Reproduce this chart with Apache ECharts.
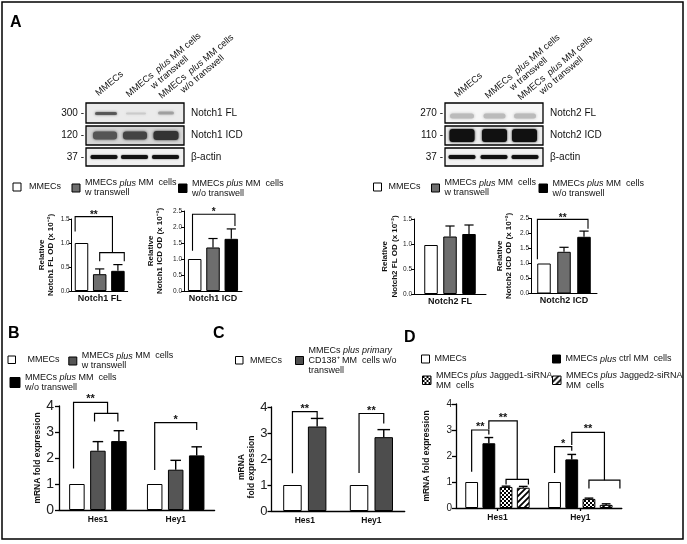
<!DOCTYPE html>
<html>
<head>
<meta charset="utf-8">
<script src="https://cdn.jsdelivr.net/npm/echarts@6.0.0/dist/echarts.min.js"></script>
<style>
html,body{margin:0;padding:0;background:#fff;}
#chart{width:687px;height:544px;}
</style>
</head>
<body>
<div id="chart"></div>
<script>
// ================= DATA =================
// Panel A – densitometry (relative OD x 10^-2)
const catNotch1FL = ['Notch1 FL'];
const catNotch1ICD = ['Notch1 ICD'];
const catNotch2FL = ['Notch2 FL'];
const catNotch2ICD = ['Notch2 ICD'];
const notch1FL = [1.0, 0.35, 0.42];
const notch1FLErr = [0, 0.11, 0.13];
const notch1ICD = [1.0, 1.36, 1.63];
const notch1ICDErr = [0, 0.28, 0.31];
const notch2FL = [0.98, 1.15, 1.20];
const notch2FLErr = [0, 0.21, 0.18];
const notch2ICD = [1.0, 1.39, 1.89];
const notch2ICDErr = [0, 0.15, 0.19];
const ticksA15 = ['0.0', '0.5', '1.0', '1.5'];
const ticksA25 = ['0.0', '0.5', '1.0', '1.5', '2.0', '2.5'];
// Panel B
const genes = ['Hes1', 'Hey1'];
const bMMECs = [1, 1];
const bWTranswell = [2.28, 1.55];
const bWTranswellErr = [0.35, 0.36];
const bWoTranswell = [2.65, 2.10];
const bWoTranswellErr = [0.40, 0.33];
// Panel C
const cMMECs = [1, 1];
const cPrimary = [3.25, 2.84];
const cPrimaryErr = [0.31, 0.29];
// Panel D
const dMMECs = [1, 1];
const dCtrl = [2.49, 1.87];
const dCtrlErr = [0.22, 0.19];
const dJag1 = [0.81, 0.35];
const dJag1Err = [0.03, 0.03];
const dJag2 = [0.78, 0.12];
const dJag2Err = [0.05, 0.04];
const ticksBCD = ['0', '1', '2', '3', '4'];
// Significance brackets: [category, topValue, leftBarSlot, rightBarSlot, leftEndValue, rightEndValue]
const sigA1 = [[0, 1.55, -0.35, 1.7, 1.24, 0.80], [0, 0.80, 1.0, 2.35, 0.62, 0.62]];
const sigA1Text = ['**', ''];
const sigA2 = [[0, 2.40, -0.12, 2.2, 1.26, 2.03]];
const sigA2Text = ['*'];
const sigA4 = [[0, 2.47, -0.33, 2.2, 1.14, 2.16]];
const sigA4Text = ['**'];
const sigB = [[0, 4.14, -0.16, 1.46, 1.60, 3.72], [0, 3.72, 0.84, 1.95, 3.40, 3.40], [1, 3.36, 0, 2, 1.54, 3.08]];
const sigBText = ['**', '', '*'];
const sigC = [[0, 3.82, 0, 1, 1.45, 3.56], [1, 3.75, 0, 1, 1.46, 3.37]];
const sigCText = ['**', '**'];
const sigD = [[0, 3.00, 0, 1, 1.39, 2.83], [0, 3.35, 1, 2.65, 3.03, 1.10], [0, 1.10, 2, 3.3, 0.90, 0.90],
              [1, 2.36, 0, 1, 1.35, 2.20], [1, 2.91, 1, 2.9, 2.42, 1.07], [1, 1.07, 2, 3.8, 0.75, 0.75]];
const sigDText = ['**', '**', '', '*', '**', ''];

// ================= HELPERS =================
const FONT = '"Liberation Sans", Arial, Helvetica, sans-serif';

function checkerPattern() {
  const c = document.createElement('canvas'); c.width = 4; c.height = 4;
  const x = c.getContext('2d');
  x.fillStyle = '#fff'; x.fillRect(0, 0, 4, 4);
  x.fillStyle = '#000'; x.fillRect(0, 0, 2, 2); x.fillRect(2, 2, 2, 2);
  return { image: c, repeat: 'repeat' };
}
function hatchPattern() {
  const s = 6;
  const c = document.createElement('canvas'); c.width = s; c.height = s;
  const x = c.getContext('2d');
  x.fillStyle = '#fff'; x.fillRect(0, 0, s, s);
  x.strokeStyle = '#000'; x.lineWidth = 1.8;
  x.beginPath();
  x.moveTo(0, s); x.lineTo(s, 0);
  x.moveTo(-2, 2); x.lineTo(2, -2);
  x.moveTo(s - 2, s + 2); x.lineTo(s + 2, s - 2);
  x.stroke();
  return { image: c, repeat: 'repeat' };
}

const option = {
  animation: false, backgroundColor: '#fff', textStyle: { fontFamily: FONT },
  grid: [], xAxis: [], yAxis: [], series: [], legend: [], graphic: { elements: [] }
};
const G = option.graphic.elements;

function addChart(c) {
  const g = option.grid.length;
  option.grid.push({ left: c.left, top: c.top, width: c.width, height: c.height, containLabel: false, outerBoundsMode: 'none' });
  option.xAxis.push({
    gridIndex: g, type: 'category', data: c.cats,
    axisLine: { show: true, lineStyle: { color: '#000', width: c.lw } },
    axisTick: { show: !!c.xTick, alignWithLabel: true, length: 3, lineStyle: { color: '#000', width: c.lw } },
    axisLabel: { show: true, interval: 0, margin: c.xMargin, fontFamily: FONT, fontSize: c.xFont, fontWeight: 'bold', color: '#111' },
    splitLine: { show: false }
  });
  option.yAxis.push({
    gridIndex: g, type: 'value', min: 0, max: c.max, interval: c.step,
    name: c.yName, nameLocation: 'middle', nameRotate: 90, nameGap: c.nameGap,
    nameTextStyle: { fontFamily: FONT, fontSize: c.nameFont, fontWeight: 'bold', color: '#111', lineHeight: c.nameLH, padding: c.namePad || 0 },
    axisLine: { show: true, lineStyle: { color: '#000', width: c.lw } },
    axisTick: { show: true, length: c.tickLen, lineStyle: { color: '#000', width: c.lw } },
    axisLabel: { margin: c.yMargin, fontFamily: FONT, fontSize: c.yFont, color: '#222',
      formatter: v => c.tickLabels[Math.round(v / c.step)] },
    splitLine: { show: false }
  });
  const n = c.series.length;
  const gap = ((c.spacing - c.bw) / c.bw * 100).toFixed(2) + '%';
  c.series.forEach(s => {
    option.series.push({
      type: 'bar', name: s.name, xAxisIndex: g, yAxisIndex: g, data: s.values,
      barWidth: c.bw, barGap: gap, silent: true, z: 2,
      itemStyle: { color: s.color, borderColor: '#000', borderWidth: 1 }
    });
  });
  const slotX = (api, cat, slot) => api.coord([cat, 0])[0] + (slot - (n - 1) / 2) * c.spacing;
  // error bars (upper only, with cap)
  const errData = [];
  c.series.forEach((s, si) => s.values.forEach((v, ci) => {
    if (s.errs && s.errs[ci]) errData.push([ci, v, s.errs[ci], si]);
  }));
  const cap = c.bw * 0.68;
  option.series.push({
    type: 'custom', xAxisIndex: g, yAxisIndex: g, data: errData, silent: true, z: 3,
    dimensions: ['x', 'y', 'e', 's'], encode: { x: 0, y: 1 },
    renderItem: (p, api) => {
      const cat = api.value(0), v = api.value(1), e = api.value(2), s = api.value(3);
      const x = slotX(api, cat, s);
      const y0 = api.coord([cat, v])[1], y1 = api.coord([cat, v + e])[1];
      return { type: 'group', children: [
        { type: 'line', shape: { x1: x, y1: y0, x2: x, y2: y1 }, style: { stroke: '#000', lineWidth: c.errW } },
        { type: 'line', shape: { x1: x - cap / 2, y1: y1, x2: x + cap / 2, y2: y1 }, style: { stroke: '#000', lineWidth: c.errW } }
      ] };
    }
  });
  // significance brackets
  if (c.sig) {
    option.series.push({
      type: 'custom', xAxisIndex: g, yAxisIndex: g, data: c.sig, silent: true, z: 4,
      dimensions: ['x', 'y', 'sl', 'sr', 'yl', 'yr'], encode: { x: 0, y: 1 },
      renderItem: (p, api) => {
        const cat = api.value(0), yt = api.value(1), sl = api.value(2), sr = api.value(3), yl = api.value(4), yr = api.value(5);
        const xL = slotX(api, cat, sl), xR = slotX(api, cat, sr);
        const yT = api.coord([cat, yt])[1];
        const yLp = api.coord([cat, yl])[1], yRp = api.coord([cat, yr])[1];
        const children = [{ type: 'polyline', shape: { points: [[xL, yLp], [xL, yT], [xR, yT], [xR, yRp]] },
          style: { stroke: '#000', fill: null, lineWidth: c.sigW } }];
        const lab = c.sigText[p.dataIndex];
        if (lab) children.push({ type: 'text', x: (xL + xR) / 2, y: yT - c.sigOff,
          style: { text: lab, fill: '#111', fontFamily: FONT, fontSize: c.sigFont, fontWeight: 'bold', align: 'center', verticalAlign: 'middle' } });
        return { type: 'group', children };
      }
    });
  }
}

function addLegend(name, label, ix, iy, size, lines, padLeft) {
  const lh = 10;
  const h = Math.max(size, lines * lh);
  option.legend.push({
    data: [name], left: ix, top: iy + size / 2 - h / 2, padding: 0,
    itemWidth: size, itemHeight: size, icon: 'rect', selectedMode: false,
    formatter: () => label,
    itemStyle: { borderColor: '#000', borderWidth: 1 },
    textStyle: { fontFamily: FONT, fontSize: 9, lineHeight: lh, color: '#111', padding: [0, 0, 0, padLeft || 0],
      rich: { i: { fontStyle: 'italic', fontFamily: FONT, fontSize: 9, lineHeight: lh, color: '#111' } } }
  });
}

// ================= PANEL A charts =================
const grayA = '#6e6e6e';
function aSeries(vals, errs) {
  return [
    { name: 'A_MMECs', values: [vals[0]], errs: [errs[0]], color: '#fff' },
    { name: 'A_w', values: [vals[1]], errs: [errs[1]], color: grayA },
    { name: 'A_wo', values: [vals[2]], errs: [errs[2]], color: '#000' }
  ];
}
const aCommon = { lw: 1, tickLen: 3, yFont: 6.5, yMargin: 2, xFont: 9, xMargin: 3, nameFont: 8, nameLH: 9.5,
  bw: 13.5, errW: 1.2, sigW: 1.1, sigFont: 10, sigOff: 1.5 };
addChart(Object.assign({}, aCommon, { left: 71.7, top: 219, width: 56, height: 72, max: 1.5, step: 0.5, tickLabels: ticksA15,
  cats: catNotch1FL, yName: 'Relative\nNotch1 FL OD (x 10⁻²)', nameGap: 16, spacing: 18.2,
  series: aSeries(notch1FL, notch1FLErr), sig: sigA1, sigText: sigA1Text }));
addChart(Object.assign({}, aCommon, { left: 184, top: 211, width: 58, height: 80, max: 2.5, step: 0.5, tickLabels: ticksA25,
  cats: catNotch1ICD, yName: 'Relative\nNotch1 ICD OD (x 10⁻²)', nameGap: 19, spacing: 18.3,
  series: aSeries(notch1ICD, notch1ICDErr), sig: sigA2, sigText: sigA2Text }));
addChart(Object.assign({}, aCommon, { left: 414, top: 219, width: 72, height: 75, max: 1.5, step: 0.5, tickLabels: ticksA15,
  cats: catNotch2FL, yName: 'Relative\nNotch2 FL OD (x 10⁻²)', nameGap: 13, spacing: 19,
  series: aSeries(notch2FL, notch2FLErr) }));
addChart(Object.assign({}, aCommon, { left: 531, top: 218.5, width: 66, height: 75, max: 2.5, step: 0.5, tickLabels: ticksA25,
  cats: catNotch2ICD, yName: 'Relative\nNotch2 ICD OD (x 10⁻²)', nameGap: 17, spacing: 20,
  series: aSeries(notch2ICD, notch2ICDErr), sig: sigA4, sigText: sigA4Text }));

// ================= PANEL B =================
addChart({ left: 59, top: 406, width: 155.6, height: 104, max: 4, step: 1, tickLabels: ticksBCD, cats: genes,
  lw: 1.3, tickLen: 4, yFont: 14, yMargin: 5, xFont: 8.5, xMargin: 5, nameFont: 8.5, nameLH: 10,
  yName: 'mRNA fold expression', nameGap: 15, bw: 15.5, spacing: 21, errW: 1.4, sigW: 1.2, sigFont: 11, sigOff: 3,
  series: [
    { name: 'B_MMECs', values: bMMECs, color: '#fff' },
    { name: 'B_w', values: bWTranswell, errs: bWTranswellErr, color: '#555' },
    { name: 'B_wo', values: bWoTranswell, errs: bWoTranswellErr, color: '#000' }
  ], sig: sigB, sigText: sigBText });

// ================= PANEL C =================
addChart({ left: 271.5, top: 407, width: 133.2, height: 104, max: 4, step: 1, tickLabels: ticksBCD, cats: genes,
  lw: 1.3, tickLen: 4, yFont: 13, yMargin: 4, xFont: 8.5, xMargin: 5, nameFont: 8.5, nameLH: 9.5, namePad: [0, 16, 0, 0],
  yName: 'mRNA\nfold expression', nameGap: 14, bw: 18.5, spacing: 24.7, errW: 1.4, sigW: 1.2, sigFont: 11, sigOff: 3,
  series: [
    { name: 'C_MMECs', values: cMMECs, color: '#fff' },
    { name: 'C_p', values: cPrimary, errs: cPrimaryErr, color: '#4d4d4d' }
  ], sig: sigC, sigText: sigCText });

// ================= PANEL D =================
addChart({ left: 456, top: 404, width: 165.8, height: 104, max: 4, step: 1, tickLabels: ticksBCD, cats: genes, xTick: true,
  lw: 1.3, tickLen: 4, yFont: 10, yMargin: 4, xFont: 8.5, xMargin: 5, nameFont: 8.5, nameLH: 10,
  yName: 'mRNA fold expression', nameGap: 24, bw: 12.8, spacing: 17.2, errW: 1.4, sigW: 1.2, sigFont: 11, sigOff: 3,
  series: [
    { name: 'D_MMECs', values: dMMECs, color: '#fff' },
    { name: 'D_ctrl', values: dCtrl, errs: dCtrlErr, color: '#000' },
    { name: 'D_j1', values: dJag1, errs: dJag1Err, color: checkerPattern() },
    { name: 'D_j2', values: dJag2, errs: dJag2Err, color: hatchPattern() }
  ], sig: sigD, sigText: sigDText });

// ================= LEGENDS =================
const lblW = 'MMECs {i|plus} MM  cells\nw transwell';
const lblWo = 'MMECs {i|plus} MM  cells\nw/o transwell';
addLegend('A_MMECs', 'MMECs', 12.5, 183, 8, 1, 3);
addLegend('A_w', lblW, 71.5, 184, 8, 2);
addLegend('A_wo', lblWo, 178, 184, 8.5, 2);
addLegend('A_MMECs', 'MMECs', 373, 183, 8, 1, 2);
addLegend('A_w', lblW, 431, 184, 8, 2);
addLegend('A_wo', lblWo, 538.5, 184, 8.5, 2);
addLegend('B_MMECs', 'MMECs', 7.5, 356, 7.5, 1, 7);
addLegend('B_w', lblW, 68.3, 357, 8, 2);
addLegend('B_wo', lblWo, 9.5, 377.5, 10, 2);
addLegend('C_MMECs', 'MMECs', 235, 356.5, 7.5, 1, 2);
addLegend('C_p', 'MMECs {i|plus primary}\nCD138⁺ MM  cells w/o\ntranswell', 295, 356.5, 8, 3);
addLegend('D_MMECs', 'MMECs', 421, 355, 8, 1);
addLegend('D_ctrl', 'MMECs {i|plus} ctrl MM  cells', 552, 355, 8, 1);
addLegend('D_j1', 'MMECs {i|plus} Jagged1-siRNA\nMM  cells', 422, 376, 8.5, 2);
addLegend('D_j2', 'MMECs {i|plus} Jagged2-siRNA\nMM  cells', 552, 376, 8.5, 2);

// ================= WESTERN BLOTS (graphic) =================
function band(cx, cy, w, h, color, blur, opacity) {
  G.push({ type: 'rect', z: 11, shape: { x: cx - w / 2, y: cy - h / 2, width: w, height: h, r: Math.min(h / 2, 3) },
    style: { fill: color, shadowBlur: blur, shadowColor: color, opacity: opacity == null ? 1 : opacity } });
}
function blotBox(x, y, w, h, fill) {
  G.push({ type: 'rect', z: 10, shape: { x, y, width: w, height: h }, style: { fill, stroke: null } });
  G.push({ type: 'rect', z: 12, shape: { x, y, width: w, height: h }, style: { fill: 'transparent', stroke: '#000', lineWidth: 1.3 } });
}
function gtext(text, x, y, opts) {
  G.push(Object.assign({ type: 'text', z: 20, x, y,
    style: Object.assign({ text, fill: '#111', fontFamily: FONT, fontSize: 10, align: 'left', verticalAlign: 'middle' }, opts || {}) }));
}
const rows = [{ y: 103, h: 20 }, { y: 126, h: 19 }, { y: 148, h: 18 }];
const rowCy = rows.map(r => r.y + r.h / 2);
// Notch1 blot
blotBox(86, rows[0].y, 98, rows[0].h, '#ebebeb');
blotBox(86, rows[1].y, 98, rows[1].h, '#d6d6d6');
blotBox(86, rows[2].y, 98, rows[2].h, '#f0f0f0');
band(106, 113.5, 22, 3, '#444', 2.5, 0.75);
band(136, 113.5, 20, 2, '#bbb', 2, 0.5);
band(166, 113, 16, 3, '#888', 2.5, 0.6);
band(105, 135.5, 24, 8, '#555', 3);
band(135, 135.5, 24, 8, '#444', 3);
band(166, 135.5, 25, 9, '#333', 3);
band(104, 157, 27, 4, '#111', 1.5);
band(134.5, 157, 27, 4, '#111', 1.5);
band(165.5, 157, 27, 4, '#111', 1.5);
// Notch2 blot
blotBox(445, rows[0].y, 98, rows[0].h, '#f7f7f7');
blotBox(445, rows[1].y, 98, rows[1].h, '#ededed');
blotBox(445, rows[2].y, 98, rows[2].h, '#f2f2f2');
band(462, 116, 24, 5, '#bbb', 3);
band(494.5, 116, 22, 5, '#bbb', 3);
band(525, 116, 22, 5, '#bbb', 3);
band(462, 135.5, 25, 13, '#111', 2.5);
band(494.5, 135.5, 25, 13, '#111', 2.5);
band(524.5, 135.5, 25, 13, '#111', 2.5);
band(462, 157, 27, 4, '#111', 1.5);
band(494, 157, 27, 4, '#111', 1.5);
band(525, 157, 27, 4, '#111', 1.5);
// row labels
['300 -', '120 -', '37 -'].forEach((t, i) => gtext(t, 84, rowCy[i], { align: 'right' }));
['Notch1 FL', 'Notch1 ICD', 'β-actin'].forEach((t, i) => gtext(t, 191, rowCy[i]));
['270 -', '110 -', '37 -'].forEach((t, i) => gtext(t, 443, rowCy[i], { align: 'right' }));
['Notch2 FL', 'Notch2 ICD', 'β-actin'].forEach((t, i) => gtext(t, 550, rowCy[i]));
// rotated lane labels
const ANG = 40 * Math.PI / 180;
const along = [Math.cos(ANG), -Math.sin(ANG)], down = [Math.sin(ANG), Math.cos(ANG)];
const LFS = 9.3;
const mctx = document.createElement('canvas').getContext('2d');
function measure(parts) {
  let w = 0;
  parts.forEach(([t, it]) => { mctx.font = (it ? 'italic ' : '') + LFS + 'px ' + FONT; w += mctx.measureText(t).width; });
  return w;
}
function laneLabel(sx, sy, line1Rich, line1Parts, line2) {
  G.push({ type: 'text', z: 20, x: sx, y: sy, rotation: ANG,
    style: { text: line1Rich, fill: '#111', fontFamily: FONT, fontSize: LFS, align: 'left', verticalAlign: 'bottom',
      rich: { i: { fontStyle: 'italic', fontFamily: FONT, fontSize: LFS, fill: '#111' } } } });
  if (line2) {
    const L = measure(line1Parts);
    const lh = 9.5;
    const px = sx + along[0] * L / 2 + down[0] * lh, py = sy + along[1] * L / 2 + down[1] * lh;
    G.push({ type: 'text', z: 20, x: px, y: py, rotation: ANG,
      style: { text: line2, fill: '#111', fontFamily: FONT, fontSize: LFS, align: 'center', verticalAlign: 'bottom' } });
  }
}
const laneRich = 'MMECs  {i|plus} MM cells';
const laneParts = [['MMECs  ', false], ['plus', true], [' MM cells', false]];
[[86, 0], [445, 1.5]].forEach(([bx, dy]) => {
  laneLabel(bx + 13.8, 97.8 + dy, 'MMECs', [['MMECs', false]], null);
  laneLabel(bx + 44.2, 99 + dy, laneRich, laneParts, 'w transwell');
  laneLabel(bx + 77, 100.6 + dy, laneRich, laneParts, 'w/o transwell');
});

// panel letters
gtext('A', 10, 22.5, { fontSize: 16, fontWeight: 'bold', fill: '#000' });
gtext('B', 8, 333.5, { fontSize: 16, fontWeight: 'bold', fill: '#000' });
gtext('C', 213, 333.5, { fontSize: 16, fontWeight: 'bold', fill: '#000' });
gtext('D', 404, 338, { fontSize: 16, fontWeight: 'bold', fill: '#000' });
// outer frame
G.push({ type: 'rect', z: 30, shape: { x: 2, y: 2, width: 681, height: 537 }, style: { fill: 'transparent', stroke: '#000', lineWidth: 1.5 } });

const chart = echarts.init(document.getElementById('chart'), null, { renderer: 'canvas' });
chart.setOption(option);
</script>
</body>
</html>
